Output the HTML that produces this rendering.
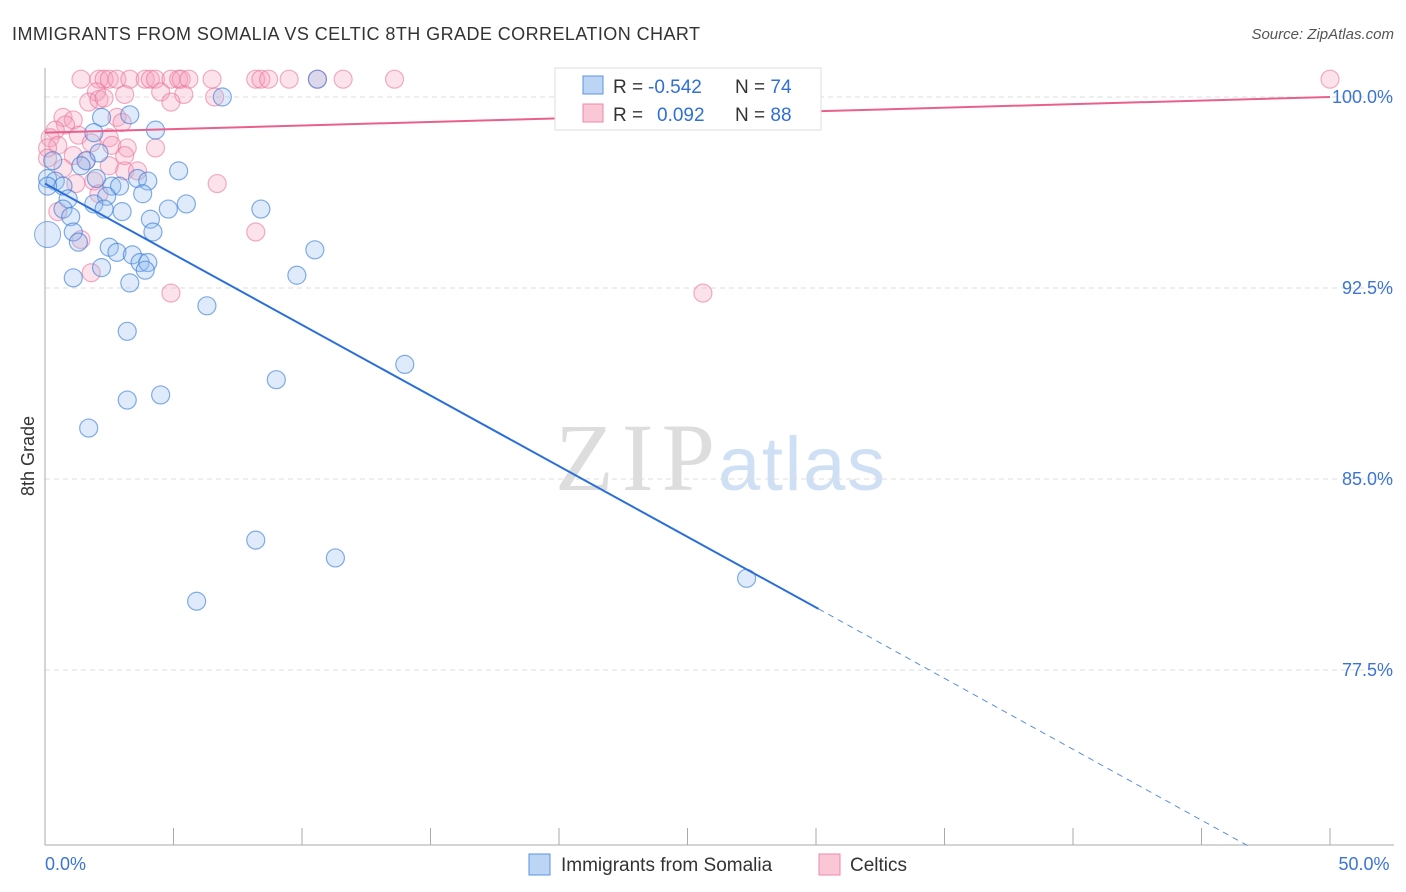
<!DOCTYPE html>
<html><head><meta charset="utf-8"><style>
body{margin:0;background:#fff;font-family:"Liberation Sans",sans-serif;}
svg{display:block}
</style></head><body>
<svg id="c" width="1406" height="892">
<text x="12" y="40" font-size="18" fill="#333" textLength="688">IMMIGRANTS FROM SOMALIA VS CELTIC 8TH GRADE CORRELATION CHART</text>
<text x="1394" y="39" font-size="15" fill="#555" font-style="italic" text-anchor="end">Source: ZipAtlas.com</text>
<text x="555" y="490" font-size="96" fill="#ddd" font-family="Liberation Serif,serif" textLength="160">ZIP</text>
<text x="718" y="490" font-size="76" fill="#cfe0f4" textLength="167">atlas</text>
<text transform="translate(34,456) rotate(-90)" font-size="18" fill="#333" text-anchor="middle">8th Grade</text>
<g id="grid"></g><g id="pts"></g><g id="lines"></g>
<g>
<rect x="555" y="68" width="266" height="62" fill="#fff" stroke="#ddd"/>
<rect x="583" y="76" width="20" height="18" fill="#bcd5f5" stroke="#5a93e0"/>
<rect x="583" y="104" width="20" height="18" fill="#f9c7d6" stroke="#ef8aab"/>
<text x="613" y="93" font-size="19" fill="#333">R =</text>
<text x="648" y="93" font-size="19" fill="#2f6fd6">-0.542</text>
<text x="735" y="93" font-size="19" fill="#333">N = <tspan fill="#2f6fd6">74</tspan></text>
<text x="613" y="121" font-size="19" fill="#333">R =</text>
<text x="657" y="121" font-size="19" fill="#2f6fd6">0.092</text>
<text x="735" y="121" font-size="19" fill="#333">N = <tspan fill="#2f6fd6">88</tspan></text>
</g>
<g>
<rect x="529" y="854" width="21" height="21" fill="#bcd5f5" stroke="#5a93e0"/>
<text x="561" y="871" font-size="19" fill="#333">Immigrants from Somalia</text>
<rect x="819" y="854" width="21" height="21" fill="#f9c7d6" stroke="#ef8aab"/>
<text x="850" y="871" font-size="19" fill="#333">Celtics</text>
</g>
</svg>
<script>
const yTicks=[100,92.5,85,77.5];
const yTickLabels=["100.0%","92.5%","85.0%","77.5%"];
const xTickLabels=["0.0%","50.0%"];
const blueX=[10.6,6.9,2.2,4.3,1.9,3.3,0.3,1.6,2.1,1.4,5.2,0.1,0.4,0.7,2.0,2.6,2.9,3.6,4.0,3.8,2.4,0.9,1.9,0.7,2.3,3.0,4.8,5.5,1.0,4.1,8.4,1.1,1.3,4.2,2.5,2.8,3.4,3.7,4.0,3.9,2.2,1.1,3.3,10.5,9.8,6.3,3.2,14.0,9.0,4.5,3.2,1.7,8.2,11.3,5.9,27.3,0.1];
const blueY=[100.7,100.0,99.2,98.7,98.6,99.3,97.5,97.5,97.8,97.3,97.1,96.8,96.7,96.5,96.8,96.5,96.5,96.8,96.7,96.2,96.1,96.0,95.8,95.6,95.6,95.5,95.6,95.8,95.3,95.2,95.6,94.7,94.3,94.7,94.1,93.9,93.8,93.5,93.5,93.2,93.3,92.9,92.7,94.0,93.0,91.8,90.8,89.5,88.9,88.3,88.1,87.0,82.6,81.9,80.2,81.1,96.5];
const pinkX=[1.4,2.1,2.3,2.5,2.8,3.3,3.9,4.1,4.3,4.9,5.2,5.3,5.6,6.5,8.2,8.4,8.7,9.5,10.6,11.6,13.6,50.0,2.0,3.1,4.5,5.4,6.6,4.9,1.7,2.1,2.3,2.8,3.0,0.7,1.1,0.8,0.4,0.2,0.5,0.1,1.3,1.8,2.5,2.6,3.2,4.3,1.1,1.6,0.7,2.5,3.1,3.6,1.9,1.2,6.7,0.5,1.4,8.2,1.8,4.9,25.6,2.1,3.1,0.1];
const pinkY=[100.7,100.7,100.7,100.7,100.7,100.7,100.7,100.7,100.7,100.7,100.7,100.7,100.7,100.7,100.7,100.7,100.7,100.7,100.7,100.7,100.7,100.7,100.2,100.1,100.2,100.1,100.0,99.8,99.8,99.9,99.96,99.2,99.0,99.2,99.1,98.9,98.7,98.4,98.1,98.0,98.5,98.2,98.4,98.1,98.0,98.0,97.7,97.5,97.2,97.3,97.1,97.1,96.7,96.6,96.6,95.5,94.4,94.7,93.1,92.3,92.3,96.2,97.7,97.6];
const blueTrend=[[0,96.6],[30.1,79.9],[46.8,70.6]];
const pinkTrend=[[0,98.6],[50,100.0]];
const NS="http://www.w3.org/2000/svg";
const X=v=>45+v/50*1285, Y=v=>97+(100-v)/7.5*191;
function mk(t,a,p){const e=document.createElementNS(NS,t);for(const k in a)e.setAttribute(k,a[k]);document.getElementById(p).appendChild(e);return e;}
yTicks.forEach((t,i)=>{
 const l=mk('line',{x1:45,x2:1394,y1:Y(t),y2:Y(t),stroke:'#ddd','stroke-dasharray':'5,4'},'grid');
 
 
 const tx=mk('text',{x:1393,y:Y(t)+6,'font-size':18,fill:'#3b74d4','text-anchor':'end'},'grid');
 tx.textContent=yTickLabels[i];
 
 
});
const ax=mk('line',{x1:45,x2:45,y1:68,y2:845,stroke:'#aaa'},'grid');


const bx=mk('line',{x1:45,x2:1394,y1:845,y2:845,stroke:'#aaa'},'grid');


for(let i=0;i<=10;i++){const t=mk('line',{x1:X(i*5),x2:X(i*5),y1:828,y2:845,stroke:'#aaa'},'grid');
 
 }
[[0,'start',45],[50,'middle',1364]].forEach((d,i)=>{const t=mk('text',{x:d[2],y:870,'font-size':18,fill:'#3b74d4','text-anchor':d[1]},'grid');t.textContent=xTickLabels[i];
 
 });
pinkX.forEach((v,i)=>{const c=mk('circle',{cx:X(v),cy:Y(pinkY[i]),r:9,fill:'rgba(244,160,188,0.3)',stroke:'rgba(232,110,150,0.55)','stroke-width':1.2},'pts');
 
 });
blueX.forEach((v,i)=>{const c=mk('circle',{cx:X(v),cy:Y(blueY[i]),r:9,fill:'rgba(150,190,240,0.3)',stroke:'rgba(50,120,215,0.6)','stroke-width':1.2},'pts');
 
 });
const big=mk('circle',{cx:X(0.1),cy:Y(94.6),r:13,fill:'rgba(150,190,240,0.3)',stroke:'rgba(50,120,215,0.6)'},'pts');


const b1=mk('line',{x1:X(blueTrend[0][0]),y1:Y(blueTrend[0][1]),x2:X(blueTrend[1][0]),y2:Y(blueTrend[1][1]),stroke:'#2a6fd8','stroke-width':2},'lines');


const b2=mk('line',{x1:X(blueTrend[1][0]),y1:Y(blueTrend[1][1]),x2:X(blueTrend[2][0]),y2:Y(blueTrend[2][1]),stroke:'#5a8fdc','stroke-width':1,'stroke-dasharray':'6,5'},'lines');


const p1=mk('line',{x1:X(pinkTrend[0][0]),y1:Y(pinkTrend[0][1]),x2:X(pinkTrend[1][0]),y2:Y(pinkTrend[1][1]),stroke:'#e8618c','stroke-width':2},'lines');


</script>
</body></html>
